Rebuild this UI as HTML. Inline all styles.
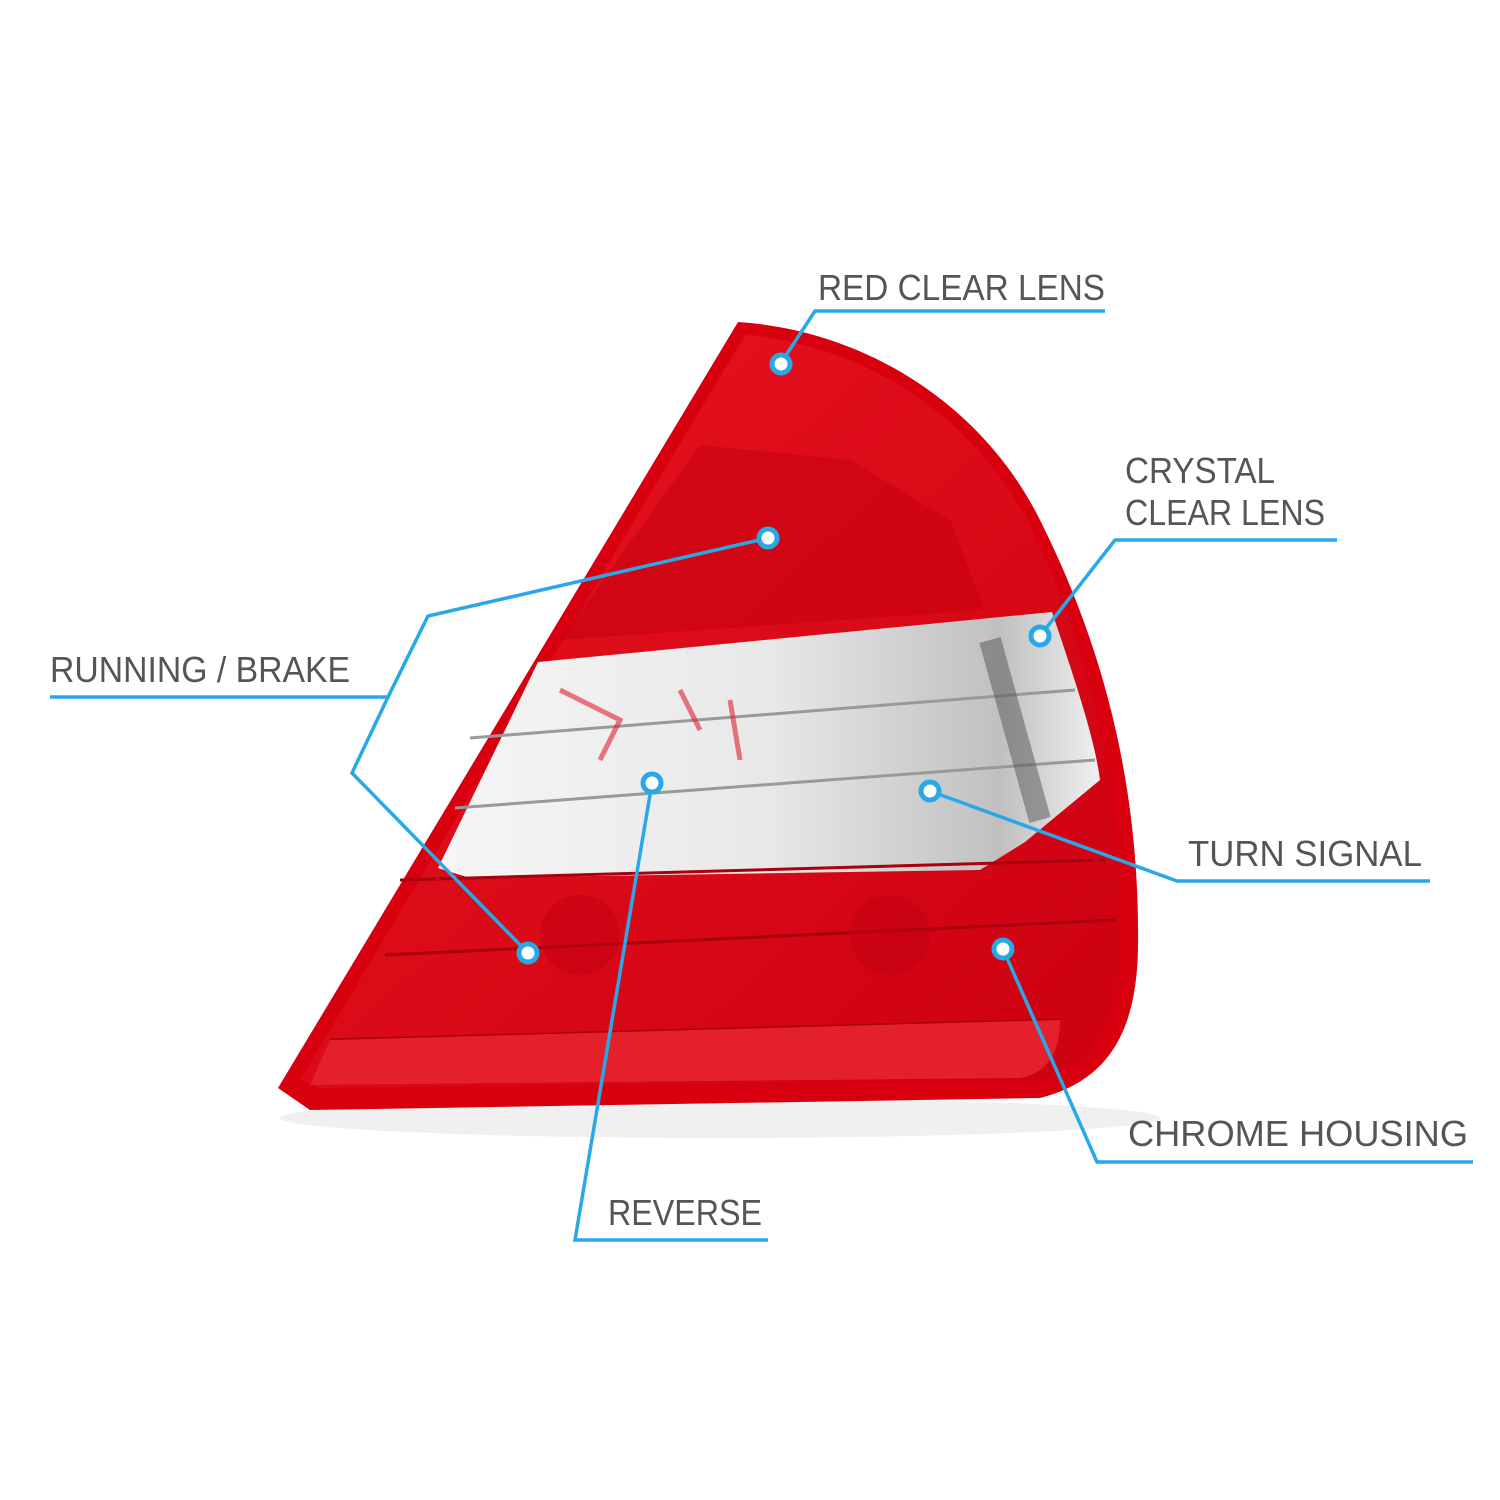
<!DOCTYPE html>
<html><head><meta charset="utf-8"><style>
html,body{margin:0;padding:0;background:#fff}
svg{display:block}
text{font-family:"Liberation Sans",sans-serif;font-size:36px;fill:#555}
</style></head><body>
<svg width="1500" height="1500" viewBox="0 0 1500 1500">
<defs>
<linearGradient id="red" x1="0" y1="0" x2="1" y2="1">
<stop offset="0" stop-color="#ea1520"/><stop offset="1" stop-color="#cc0010"/>
</linearGradient>
<linearGradient id="clear" x1="0" y1="0" x2="1" y2="0">
<stop offset="0" stop-color="#f6f6f6"/><stop offset="0.5" stop-color="#e8e8e8"/><stop offset="0.85" stop-color="#c0c0c0"/><stop offset="1" stop-color="#f0f0f0"/>
</linearGradient>
</defs>
<ellipse cx="720" cy="1118" rx="440" ry="20" fill="#f0f0f0"/>
<path d="M738,322 C860,330 980,400 1040,520 C1110,660 1140,800 1138,950 C1136,1030 1110,1080 1040,1098 L310,1110 L278,1088 Z" fill="#d8000f"/>
<path d="M745,335 C860,345 970,410 1030,525 C1095,660 1122,800 1120,950 C1118,1020 1095,1065 1035,1080 L320,1088 L300,1080 Z" fill="url(#red)"/>
<path d="M700,445 L850,460 L950,520 L985,610 L560,640 Z" fill="#c40010" opacity="0.5"/>
<path d="M538,662 L1052,612 C1075,680 1095,740 1100,780 L1025,842 L980,870 L470,878 L438,868 Z" fill="url(#clear)"/>
<path d="M470,738 L1075,690 M455,808 L1095,760" stroke="#999" stroke-width="3" fill="none"/>
<path d="M990,640 L1040,820" stroke="#555" stroke-width="22" opacity="0.5"/>
<path d="M560,690 L620,720 L600,760 M680,690 L700,730 M730,700 L740,760" stroke="#e02030" stroke-width="5" fill="none" opacity="0.6"/>
<path d="M400,880 L1105,860 M385,955 L1115,920 M330,1040 L1060,1020" stroke="#a8000c" stroke-width="3" fill="none"/>
<path d="M330,1040 L1060,1020 C1060,1060 1040,1075 1020,1078 L310,1085 Z" fill="#e4202a"/>
<circle cx="580" cy="935" r="40" fill="#c00010" opacity="0.5"/>
<circle cx="890" cy="935" r="40" fill="#c00010" opacity="0.5"/>
<g stroke="#29a8e8" stroke-width="3.5" fill="none">
<path d="M1105,311 L815,311 L781,363"/>
<path d="M1337,540 L1115,540 L1040,636"/>
<path d="M50,697 L388,697 L428,616 L768,538"/>
<path d="M388,697 L352,773 L528,953"/>
<path d="M1430,881 L1177,881 L930,791"/>
<path d="M1473,1162 L1097,1162 L1003,949"/>
<path d="M768,1240 L575,1240 L652,783"/>
</g>
<g fill="#fff" stroke="#29a8e8" stroke-width="5">
<circle cx="781" cy="364" r="9"/><circle cx="1040" cy="636" r="9"/>
<circle cx="768" cy="538" r="9"/><circle cx="528" cy="953" r="9"/>
<circle cx="930" cy="791" r="9"/><circle cx="1003" cy="949" r="9"/>
<circle cx="652" cy="783" r="9"/>
</g>
<text x="818" y="300" textLength="287" lengthAdjust="spacingAndGlyphs">RED CLEAR LENS</text>
<text x="1125" y="483" textLength="150" lengthAdjust="spacingAndGlyphs">CRYSTAL</text>
<text x="1125" y="525" textLength="200" lengthAdjust="spacingAndGlyphs">CLEAR LENS</text>
<text x="50" y="682" textLength="300" lengthAdjust="spacingAndGlyphs">RUNNING / BRAKE</text>
<text x="1188" y="866" textLength="234" lengthAdjust="spacingAndGlyphs">TURN SIGNAL</text>
<text x="1128" y="1146" textLength="340" lengthAdjust="spacingAndGlyphs">CHROME HOUSING</text>
<text x="608" y="1225" textLength="154" lengthAdjust="spacingAndGlyphs">REVERSE</text>
</svg>
</body></html>
